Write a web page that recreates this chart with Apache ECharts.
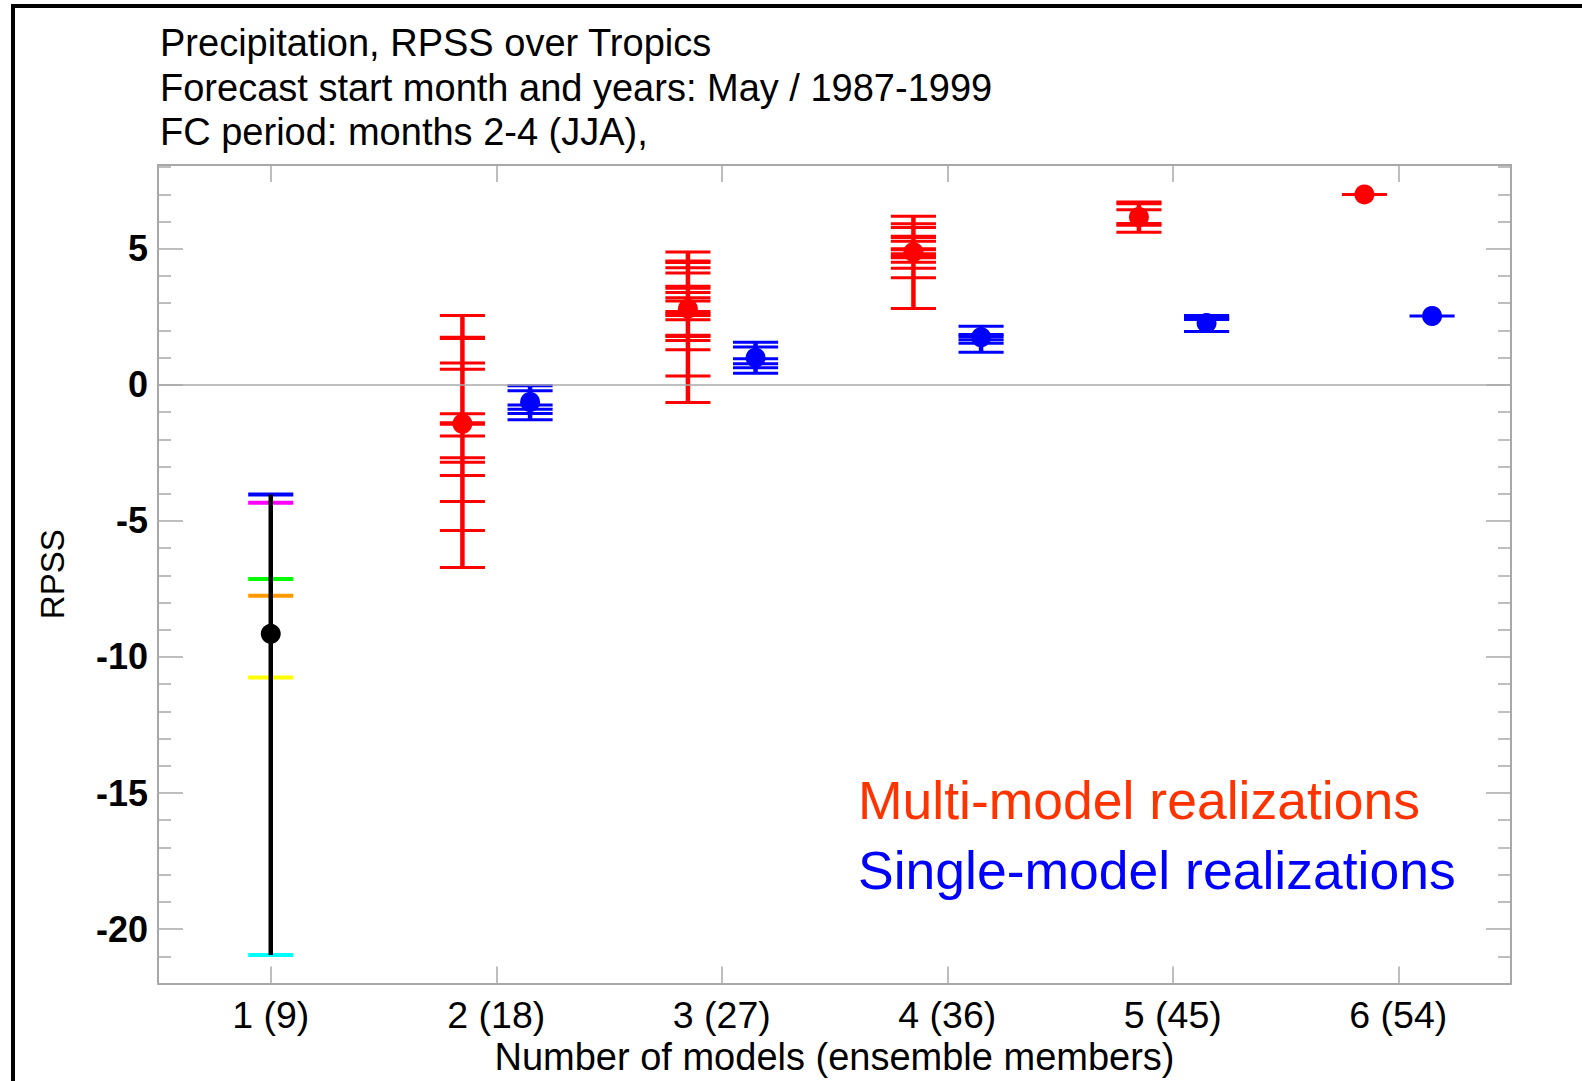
<!DOCTYPE html>
<html>
<head>
<meta charset="utf-8">
<script src="https://cdn.jsdelivr.net/npm/echarts@6/dist/echarts.min.js"></script>
<style>
html, body { margin: 0; padding: 0; background: #ffffff; }
#chart { width: 1582px; height: 1081px; }
</style>
</head>
<body>
<div id="chart"></div>
<script>
// ---------------- DATA ----------------
const categories = ['1 (9)', '2 (18)', '3 (27)', '4 (36)', '5 (45)', '6 (54)'];
const yTickValues = [-20, -15, -10, -5, 0, 5];
const titleLines = [
  'Precipitation, RPSS over Tropics',
  'Forecast start month and years: May / 1987-1999',
  'FC period: months 2-4 (JJA),'
];
const xAxisName = 'Number of models (ensemble members)';
const yAxisName = 'RPSS';
const multiName = 'Multi-model realizations';
const singleName = 'Single-model realizations';
const individualName = 'Individual models';

// 1 model (9 members): one value per model
const oneModelValues = [-4.03, -4.33, -7.13, -7.75, -10.75, -20.95];
const oneModelMean = -9.15;

// Multi-model combinations, groups 2..6 models
const multi2 = [2.55, 1.75, 1.70, 0.80, 0.57, -1.06, -1.39, -1.45, -1.88, -2.68, -2.84, -3.33, -4.29, -5.35, -6.71];
const multi3 = [4.88, 4.55, 4.50, 4.30, 4.11, 3.62, 3.55, 3.39, 3.20, 3.08, 2.70, 2.61, 2.55, 2.39, 1.82, 1.78, 1.63, 1.29, 0.33, -0.65];
const multi4 = [6.20, 5.92, 5.78, 5.46, 5.42, 5.28, 5.00, 4.97, 4.82, 4.72, 4.67, 4.51, 4.29, 3.94, 2.81];
const multi5 = [6.72, 6.66, 6.44, 5.93, 5.87, 5.61];
const multi6 = [7.00];
const multiMeans = [-1.43, 2.80, 4.88, 6.17, 7.00];

// Single-model realizations with the same ensemble size, groups 2..6
const single2 = [-0.03, -0.22, -0.74, -0.90, -1.05, -1.28];
const single3 = [1.57, 1.39, 0.96, 0.78, 0.63, 0.43];
const single4 = [2.15, 1.85, 1.78, 1.66, 1.53, 1.20];
const single5 = [2.55, 2.48, 2.44, 2.40, 1.96];
const single6 = [2.53];
const singleMeans = [-0.63, 1.00, 1.75, 2.27, 2.53];

// ---------------- STYLE ----------------
const FONT = '"Liberation Sans", Arial, Helvetica, sans-serif';
const RED = '#ff0000';
const BLUE = '#0000ff';
const BLACK = '#000000';
const FRAME = '#a8a8a8';
const MODEL_COLORS = ['#0000ff', '#ff00ff', '#00ff00', '#ff9900', '#ffff00', '#00ffff'];
const OFFSET_MULTI = -0.15;
const OFFSET_SINGLE = 0.15;
const HALF = 0.1;

// ---------------- BUILD ----------------
const multiGroups = [multi2, multi3, multi4, multi5, multi6];
const singleGroups = [single2, single3, single4, single5, single6];

function tickData(groups) {
  const out = [];
  groups.forEach((arr, i) => arr.forEach(v => out.push([i + 1, v])));
  return out;
}
function whiskerData(groups, means) {
  return groups.map((arr, i) => [i + 1, means[i], Math.min.apply(null, arr), Math.max.apply(null, arr)]);
}
const oneTickData = oneModelValues.map((v, k) => [0, v, k]);
const oneWhisker = [[0, oneModelMean, Math.min.apply(null, oneModelValues), Math.max.apply(null, oneModelValues)]];

function makeTickRender(offset, lineWidth, colorFn) {
  return function (params, api) {
    const p = api.coord([api.value(0), api.value(1)]);
    const band = api.size([1, 0])[0];
    const cx = p[0] + offset * band;
    const hw = HALF * band;
    return {
      type: 'line',
      shape: { x1: cx - hw, y1: p[1], x2: cx + hw, y2: p[1] },
      style: { stroke: colorFn(api), lineWidth: lineWidth }
    };
  };
}
function makeWhiskerRender(offset, color, lineWidth, r) {
  return function (params, api) {
    const band = api.size([1, 0])[0];
    const mid = api.coord([api.value(0), api.value(1)]);
    const lo = api.coord([api.value(0), api.value(2)]);
    const hi = api.coord([api.value(0), api.value(3)]);
    const cx = mid[0] + offset * band;
    return {
      type: 'group',
      children: [
        { type: 'line', shape: { x1: cx, y1: hi[1], x2: cx, y2: lo[1] }, style: { stroke: color, lineWidth: lineWidth } },
        { type: 'circle', shape: { cx: cx, cy: mid[1], r: r }, style: { fill: color } }
      ]
    };
  };
}

const yMin = -22, yMax = 8.08;
const minorTicks = [];
for (let v = yMin + 1; v < yMax; v++) { if (v % 5 !== 0) minorTicks.push(v); }

function yAxisCfg(position, ticks, len, withLabel) {
  return {
    type: 'value', position: position, min: yMin, max: yMax,
    axisLine: { show: withLabel, onZero: false, lineStyle: { color: FRAME, width: 2 } },
    axisTick: { show: true, inside: true, length: len, customValues: ticks, lineStyle: { color: FRAME, width: 1.5 } },
    axisLabel: withLabel && position === 'left'
      ? { show: true, customValues: yTickValues, fontSize: 36, fontWeight: 'bold', color: '#000', fontFamily: FONT, margin: 10 }
      : { show: false },
    splitLine: { show: false }
  };
}

const chart = echarts.init(document.getElementById('chart'), null, { renderer: 'svg' });
const yAxes = [
  yAxisCfg('left', yTickValues, 25, true),
  yAxisCfg('left', minorTicks, 13, false),
  yAxisCfg('right', yTickValues, 25, true),
  yAxisCfg('right', minorTicks, 13, false)
];
yAxes[0].name = yAxisName;
yAxes[0].nameLocation = 'middle';
yAxes[0].nameGap = 89;
yAxes[0].nameTextStyle = { fontSize: 33, color: '#000', fontFamily: FONT };

chart.setOption({
  backgroundColor: '#ffffff',
  animation: false,
  title: {
    text: titleLines.join('\n'),
    left: 160, top: 21, padding: 0,
    textStyle: { fontSize: 38, fontWeight: 'normal', color: '#000', lineHeight: 44.4, fontFamily: FONT }
  },
  legend: {
    orient: 'vertical', left: 848, top: 765, icon: 'none', itemWidth: 0, itemHeight: 0, itemGap: 10,
    selectedMode: false,
    textStyle: { fontSize: 53.5, lineHeight: 60, fontFamily: FONT },
    data: [
      { name: multiName, textStyle: { color: '#ff3300' } },
      { name: singleName, textStyle: { color: '#0000ff' } }
    ]
  },
  grid: { left: 158, right: 71, top: 165, bottom: 97.5, containLabel: false, outerBoundsMode: 'none' },
  xAxis: [
    {
      type: 'category', position: 'bottom', data: categories, boundaryGap: true,
      axisLine: { show: true, onZero: false, lineStyle: { color: FRAME, width: 2 } },
      axisTick: { show: true, inside: true, alignWithLabel: true, length: 17, lineStyle: { color: FRAME, width: 1.5 } },
      axisLabel: { fontSize: 37.5, color: '#000', fontFamily: FONT, margin: 12 },
      name: xAxisName, nameLocation: 'middle', nameGap: 41,
      nameTextStyle: { fontSize: 38, color: '#000', fontFamily: FONT },
      splitLine: { show: false }
    },
    {
      type: 'category', position: 'top', data: categories, boundaryGap: true,
      axisLine: { show: true, onZero: false, lineStyle: { color: FRAME, width: 2 } },
      axisTick: { show: true, inside: true, alignWithLabel: true, length: 17, lineStyle: { color: FRAME, width: 1.5 } },
      axisLabel: { show: false },
      splitLine: { show: false }
    }
  ],
  yAxis: yAxes,
  graphic: [
    { type: 'line', shape: { x1: 11, y1: 6, x2: 1582, y2: 6 }, style: { stroke: '#000', lineWidth: 4 }, silent: true },
    { type: 'line', shape: { x1: 13, y1: 4, x2: 13, y2: 1081 }, style: { stroke: '#000', lineWidth: 4 }, silent: true }
  ],
  series: [
    {
      name: 'zero', type: 'line', data: [], z: 1, silent: true,
      markLine: { silent: true, symbol: 'none', label: { show: false },
        lineStyle: { color: '#aaaaaa', width: 1.5, type: 'solid' }, data: [{ yAxis: 0 }] }
    },
    {
      name: individualName, type: 'custom', z: 3, data: oneTickData, encode: { x: 0, y: 1 },
      renderItem: makeTickRender(0, 4, api => MODEL_COLORS[api.value(2)])
    },
    {
      name: individualName, type: 'custom', z: 4, data: oneWhisker, encode: { x: 0, y: [1, 2, 3] },
      renderItem: makeWhiskerRender(0, BLACK, 4.5, 10)
    },
    {
      name: multiName, type: 'custom', z: 3, data: tickData(multiGroups), encode: { x: 0, y: 1 },
      itemStyle: { color: RED },
      renderItem: makeTickRender(OFFSET_MULTI, 3, () => RED)
    },
    {
      name: multiName, type: 'custom', z: 4, data: whiskerData(multiGroups, multiMeans), encode: { x: 0, y: [1, 2, 3] },
      itemStyle: { color: RED },
      renderItem: makeWhiskerRender(OFFSET_MULTI, RED, 4.5, 10)
    },
    {
      name: singleName, type: 'custom', z: 3, data: tickData(singleGroups), encode: { x: 0, y: 1 },
      itemStyle: { color: BLUE },
      renderItem: makeTickRender(OFFSET_SINGLE, 3, () => BLUE)
    },
    {
      name: singleName, type: 'custom', z: 4, data: whiskerData(singleGroups, singleMeans), encode: { x: 0, y: [1, 2, 3] },
      itemStyle: { color: BLUE },
      renderItem: makeWhiskerRender(OFFSET_SINGLE, BLUE, 4.5, 10)
    }
  ]
});
</script>
</body>
</html>
